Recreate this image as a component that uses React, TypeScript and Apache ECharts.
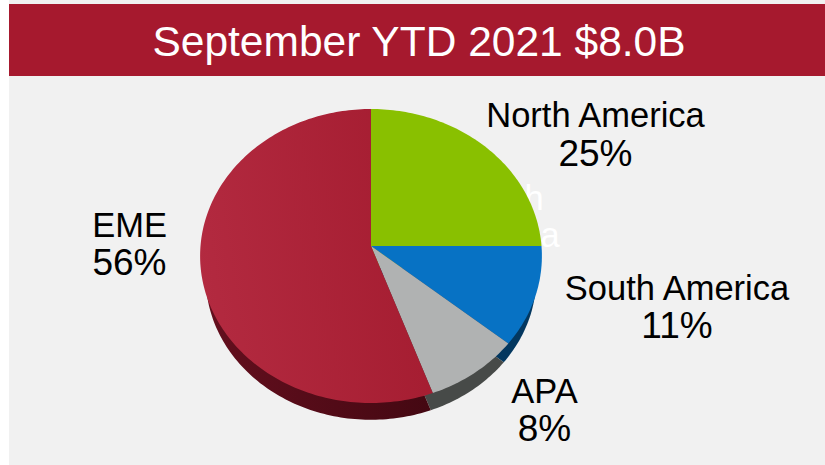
import React, { useEffect, useRef } from "react";
import * as echarts from "echarts";

const TITLE = "September YTD 2021 $8.0B";
const categories = ["North America", "South America", "APA", "EME"];
const values = [25, 11, 8.49, 55.51];
const topColors = ["#89c000", "#0772c4", "#b0b2b2", "#a81f33"];
const sideColors = ["#5a7e00", "#03375f", "#474a48", "#4c0a16"];
const labelPos: [number, number][] = [[595.5, 134], [677, 306.5], [544.5, 409.5], [129.5, 243.5]];

const total = values.reduce((a, b) => a + b, 0);
const CX = 371;
const TOP_Y = 246;
const K = -0.068;
const SY = 146.3;
const RX = 170.5;

function rim(theta: number, cy: number, s: number): [number, number] {
  const u = Math.sin(theta);
  const v = -Math.cos(theta);
  const d = 1 + K * v;
  return [CX + (s * RX * u) / d, cy + (s * SY * v) / d];
}

function slicePoints(a0: number, a1: number, cy: number, s: number) {
  const pts: [number, number][] = [[CX, cy]];
  const n = Math.max(4, Math.ceil((a1 - a0) / 0.02));
  for (let i = 0; i <= n; i++) pts.push(rim(a0 + ((a1 - a0) * i) / n, cy, s));
  return pts;
}

function renderSlice(params: any, api: any) {
  const i = params.dataIndex;
  const start = values.slice(0, i).reduce((a, b) => a + b, 0);
  const a0 = (start / total) * Math.PI * 2;
  const a1 = a0 + (api.value(0) / total) * Math.PI * 2;
  const isEme = categories[i] === "EME";
  const fill = isEme
    ? new echarts.graphic.LinearGradient(0, 0.6, 1, 0.4, [
        { offset: 0, color: "#b32a40" },
        { offset: 1, color: "#a41c30" },
      ])
    : topColors[i];
  const side = isEme
    ? new echarts.graphic.LinearGradient(0, 0, 1, 0, [
        { offset: 0, color: "#640f1e" },
        { offset: 1, color: "#440812" },
      ])
    : sideColors[i];
  return {
    type: "group",
    children: [
      {
        type: "polygon",
        z2: 1,
        shape: { points: slicePoints(a0, a1, 268, 0.967) },
        style: { fill: side },
      },
      {
        type: "polygon",
        z2: 3,
        shape: { points: slicePoints(a0, a1, TOP_Y, 1) },
        style: { fill },
      },
      {
        type: "text",
        z2: 4,
        x: labelPos[i][0],
        y: labelPos[i][1] - 19,
        style: {
          text: categories[i],
          fill: "#000",
          font: '34.5px "Liberation Sans"',
          align: "center",
          verticalAlign: "middle",
        },
      },
      {
        type: "text",
        z2: 4,
        x: labelPos[i][0],
        y: labelPos[i][1] + 19,
        style: {
          text: `${Math.round(api.value(0))}%`,
          fill: "#000",
          font: '37px "Liberation Sans"',
          align: "center",
          verticalAlign: "middle",
        },
      },
    ],
  };
}

export default function App() {
  const ref = useRef<HTMLDivElement>(null);
  useEffect(() => {
    const chart = echarts.init(ref.current!, null, { renderer: "svg" });
    chart.setOption({
      animation: false,
      backgroundColor: "#ffffff",
      graphic: [
        { type: "rect", z: 0, shape: { x: 9, y: 0, width: 816, height: 465 }, style: { fill: "#f1f1f1" } },
        { type: "rect", z: 1, shape: { x: 9, y: 4, width: 816, height: 72 }, style: { fill: "#a6192e" } },
        {
          type: "text",
          z: 1,
          x: 419,
          y: 41,
          style: { text: TITLE, fill: "#fff", font: '42.5px "Liberation Sans"', align: "center", verticalAlign: "middle" },
        },
        { type: "text", z: 1, x: 534, y: 198, style: { text: "h", fill: "#fff", font: '34.5px "Liberation Sans"', align: "center", verticalAlign: "middle" } },
        { type: "text", z: 1, x: 550, y: 235, style: { text: "a", fill: "#fff", font: '34.5px "Liberation Sans"', align: "center", verticalAlign: "middle" } },
      ],
      series: [
        {
          type: "custom",
          coordinateSystem: "none",
          z: 2,
          silent: true,
          data: values.map((v) => [v]),
          renderItem: renderSlice,
        },
      ],
    });
    return () => chart.dispose();
  }, []);
  return <div ref={ref} style={{ position: "fixed", left: 0, top: 0, width: 825, height: 465 }} />;
}
